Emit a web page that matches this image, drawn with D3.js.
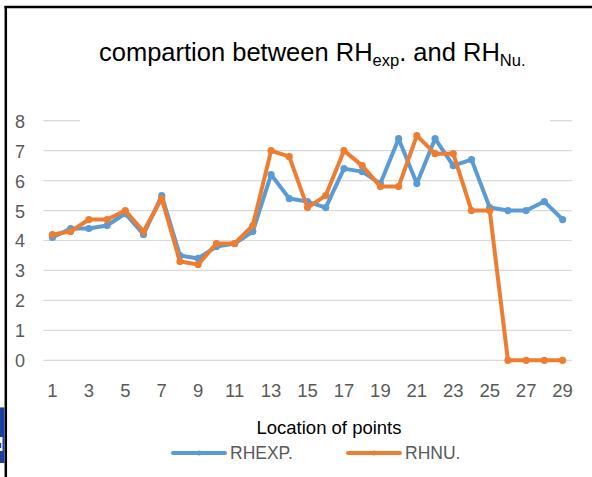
<!DOCTYPE html>
<html>
<head>
<meta charset="utf-8">
<script src="https://cdn.jsdelivr.net/npm/d3@7"></script>
<style>
html,body{margin:0;padding:0;background:#fff;}
svg{display:block;font-family:"Liberation Sans",Arial,sans-serif;}
</style>
</head>
<body>
<svg id="chart" width="592" height="477"></svg>
<script>
const categories = d3.range(1, 30).map(String);
const rhExp = [4.1,4.4,4.4,4.5,4.9,4.2,5.5,3.5,3.4,3.8,3.9,4.3,6.2,5.4,5.3,5.1,6.4,6.3,5.9,7.4,5.9,7.4,6.5,6.7,5.1,5.0,5.0,5.3,4.7];
const rhNu  = [4.2,4.3,4.7,4.7,5.0,4.3,5.4,3.3,3.2,3.9,3.9,4.5,7.0,6.8,5.1,5.5,7.0,6.5,5.8,5.8,7.5,6.9,6.9,5.0,5.0,0,0,0,0];
const yTicks = [0,1,2,3,4,5,6,7,8];
const xTickLabels = categories.filter((d,i) => i % 2 === 0);
const seriesNames = ["RHEXP.", "RHNU."];
const colors = ["#5B9BD5", "#ED7D31"];

const svg = d3.select("#chart");
const plotL = 43.3, plotR = 571.7, plotT = 120.7, plotB = 360.3;

const x = d3.scaleBand().domain(categories).range([plotL, plotR]);
const y = d3.scaleLinear().domain([0, 8]).range([plotB, plotT]);
const cx = d => x(d) + x.bandwidth() / 2;

// gridlines
svg.append("g").selectAll("line").data(yTicks).join("line")
  .attr("x1", plotL).attr("x2", plotR)
  .attr("y1", d => y(d)).attr("y2", d => y(d))
  .attr("stroke", "#D9D9D9").attr("stroke-width", 1.2);

// title area covers middle of top gridline
svg.append("rect").attr("x", 80).attr("y", 8).attr("width", 470).attr("height", 116).attr("fill", "#fff");

// y axis labels
const yAxis = d3.axisLeft(y).tickValues(yTicks).tickSize(0).tickPadding(0);
const gy = svg.append("g").attr("transform", "translate(25,0)").call(yAxis);
gy.select(".domain").remove();
gy.selectAll("text").attr("fill", "#595959").style("font-size", "18px").style("font-family", "Liberation Sans, Arial, sans-serif").attr("dy", "0.36em");

// x axis labels
const xAxis = d3.axisBottom(x).tickValues(xTickLabels).tickSize(0).tickPadding(0);
const gx = svg.append("g").attr("transform", "translate(0,384)").call(xAxis);
gx.select(".domain").remove();
gx.selectAll("text").attr("fill", "#595959").style("font-size", "18.5px").style("font-family", "Liberation Sans, Arial, sans-serif").attr("dy", "0.72em");

// lines
const line = d3.line().x((d,i) => cx(categories[i])).y(d => y(d));
[rhExp, rhNu].forEach((s, k) => {
  svg.append("path").datum(s).attr("d", line)
    .attr("fill", "none").attr("stroke", colors[k]).attr("stroke-width", 4)
    .attr("stroke-linejoin", "round").attr("stroke-linecap", "round");
  svg.append("g").selectAll("circle").data(s).join("circle")
    .attr("cx", (d,i) => cx(categories[i])).attr("cy", d => y(d))
    .attr("r", 3.6).attr("fill", colors[k]);
});

// title
const title = svg.append("text").attr("x", 99).attr("y", 61)
  .attr("fill", "#000").style("font-size", "25.5px");
title.append("tspan").text("compartion between RH");
title.append("tspan").text("exp").style("font-size", "16.5px").attr("dy", 5);
title.append("tspan").text(". and RH").attr("dy", -5);
title.append("tspan").text("Nu.").style("font-size", "16.5px").attr("dy", 5);

// axis title
svg.append("text").attr("x", 329).attr("y", 434).attr("text-anchor", "middle")
  .attr("fill", "#000").style("font-size", "18.5px").text("Location of points");

// legend
const legX = [173, 348];
seriesNames.forEach((n, k) => {
  svg.append("line").attr("x1", legX[k]).attr("x2", legX[k] + 52)
    .attr("y1", 453).attr("y2", 453).attr("stroke", colors[k])
    .attr("stroke-width", 4).attr("stroke-linecap", "round");
  svg.append("circle").attr("cx", legX[k] + 26).attr("cy", 453).attr("r", 2.5).attr("fill", colors[k]);
  svg.append("text").attr("x", legX[k] + 57).attr("y", 459)
    .attr("fill", "#595959").style("font-size", "17.5px").text(n);
});

// frame
svg.append("line").attr("x1", 4.5).attr("x2", 592).attr("y1", 7).attr("y2", 7).attr("stroke", "#000").attr("stroke-width", 2.5);
svg.append("line").attr("x1", 5.8).attr("x2", 5.8).attr("y1", 6).attr("y2", 477).attr("stroke", "#000").attr("stroke-width", 2.5);

// fragment of a neighbouring element at the left edge
svg.append("rect").attr("x", 0).attr("y", 407).attr("width", 4.5).attr("height", 1).attr("fill", "#888");
svg.append("rect").attr("x", 0).attr("y", 408).attr("width", 4.5).attr("height", 55).attr("fill", "#1C3E9E");
svg.append("path").attr("d", "M0,437 L2.5,437 L2.5,451 L0,451 Z M0,443 L1.2,443 L1.2,448 L0,448 Z")
  .attr("fill", "#fff").attr("fill-rule", "evenodd");
</script>
</body>
</html>
